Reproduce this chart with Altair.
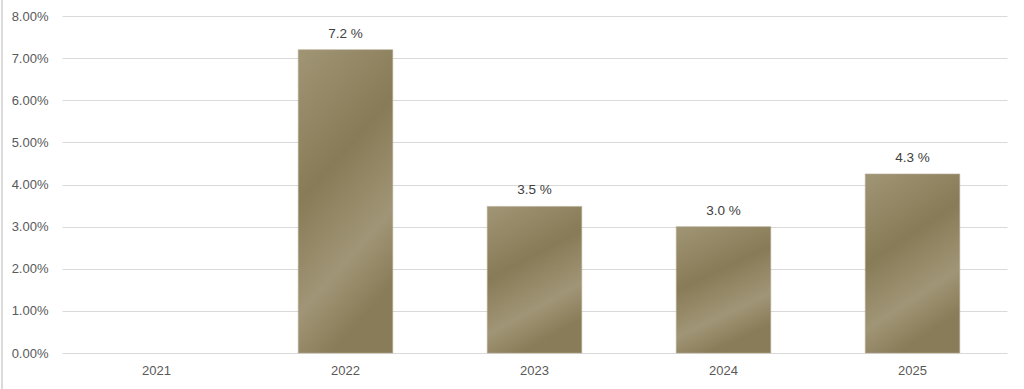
import altair as alt
import pandas as pd

years = ["2021", "2022", "2023", "2024", "2025"]
values = [None, 0.072, 0.0348, 0.030, 0.0425]
labels = ["", "7.2 %", "3.5 %", "3.0 %", "4.3 %"]

df = pd.DataFrame({"year": years, "value": values, "label": labels})

FONT = "Liberation Sans"

grad = alt.Gradient(
    gradient="linear",
    stops=[
        alt.GradientStop(color="#a09575", offset=0),
        alt.GradientStop(color="#887b57", offset=0.45),
        alt.GradientStop(color="#a09576", offset=0.78),
        alt.GradientStop(color="#897c58", offset=1),
    ],
    x1=0, y1=0, x2=0.35, y2=1,
)

x = alt.X(
    "year:N",
    sort=years,
    title=None,
    scale=alt.Scale(paddingInner=0.5, paddingOuter=0.25),
    axis=alt.Axis(labelAngle=0, domain=False, ticks=False, labelPadding=11,
                  labelFont=FONT, labelFontSize=13, labelColor="#595959"),
)
y = alt.Y(
    "value:Q",
    title=None,
    scale=alt.Scale(domain=[0, 0.08]),
    axis=alt.Axis(format=".2%", values=[i / 100 for i in range(9)], domain=False,
                  ticks=False, labelPadding=14, gridColor="#d9d9d9",
                  labelFont=FONT, labelFontSize=13, labelColor="#595959"),
)

bars = alt.Chart(df).mark_bar(color=grad, stroke="#b3aa90", strokeWidth=0.6).encode(x=x, y=y)

text = alt.Chart(df).mark_text(baseline="bottom", dy=-9, font=FONT, fontSize=13.5,
                               color="#404040").encode(
    x=alt.X("year:N", sort=years),
    y="value:Q",
    text="label:N",
)

border = alt.Chart(df).mark_rule(color="#d9d9d9", strokeWidth=1).encode(
    x=alt.value(-60), y=alt.value(-20), y2=alt.value(400)
)

chart = alt.layer(border, bars, text).properties(
    width=945, height=337,
    padding={"left": 62, "top": 16, "right": 17, "bottom": 36},
    autosize=alt.AutoSizeParams(type="none"),
    background="white",
).configure_view(stroke=None)

chart.save("out.html", embed_options={"renderer": "svg", "actions": False})
